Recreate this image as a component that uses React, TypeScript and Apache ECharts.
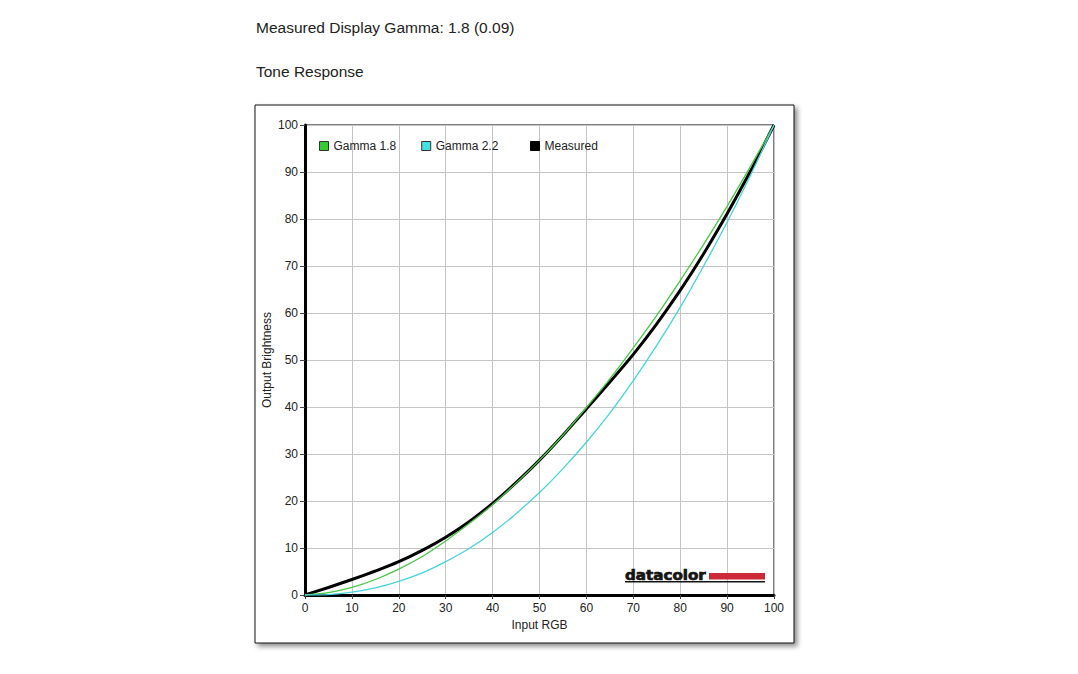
import React, { useEffect, useRef } from "react";
import * as echarts from "echarts";

const inputRGB = [0, 5, 10, 15, 20, 25, 30, 35, 40, 45, 50, 55, 60, 65, 70, 75, 80, 85, 90, 95, 100];
const gamma18 = [0, 0.5, 1.6, 3.3, 5.5, 8.2, 11.5, 15.2, 19.2, 23.8, 28.7, 34.0, 39.9, 46.0, 52.6, 59.5, 66.9, 74.6, 82.7, 91.2, 100];
const gamma22 = [0, 0.1, 0.6, 1.5, 2.9, 4.7, 7.1, 9.9, 13.3, 17.3, 21.8, 26.9, 32.5, 38.7, 45.6, 53.1, 61.2, 70.0, 79.3, 89.3, 100];
const measured = [0, 1.6, 3.3, 5.1, 7.1, 9.5, 12.3, 15.6, 19.5, 23.9, 28.7, 34.0, 39.6, 45.3, 51.2, 57.7, 64.8, 72.6, 81.1, 90.2, 100];
const seriesNames = ["Gamma 1.8", "Gamma 2.2", "Measured"];
const headline = "Measured Display Gamma: 1.8 (0.09)";
const subhead = "Tone Response";
const xAxisName = "Input RGB";
const yAxisName = "Output Brightness";

const pairs = (ys: number[]) => inputRGB.map((x, i) => [x, ys[i]]);

export default function App() {
  const ref = useRef<HTMLDivElement>(null);
  useEffect(() => {
    if (!ref.current) return;
    const chart = echarts.init(ref.current, null, { renderer: "svg" });
    const font = "Arial, 'Liberation Sans', sans-serif";
    const legendBase = {
      top: 140,
      itemWidth: 9,
      itemHeight: 9,
      itemGap: 25,
      icon: "rect",
      textStyle: { fontSize: 12, color: "#222", fontFamily: font },
      padding: 0,
    };
    chart.setOption({
      animation: false,
      backgroundColor: "#ffffff",
      textStyle: { fontFamily: font },
      title: [
        {
          text: headline,
          left: 256,
          top: 19,
          padding: 0,
          textStyle: { fontSize: 15.5, fontWeight: "normal", color: "#222", fontFamily: font },
        },
        {
          text: subhead,
          left: 256,
          top: 63,
          padding: 0,
          textStyle: { fontSize: 15.5, fontWeight: "normal", color: "#222", fontFamily: font },
        },
      ],
      graphic: [
        {
          type: "rect",
          z: -10,
          shape: { x: 255, y: 105, width: 539, height: 538 },
          style: {
            fill: "#fff",
            stroke: "#111",
            lineWidth: 1,
            shadowBlur: 5,
            shadowOffsetX: 3,
            shadowOffsetY: 3,
            shadowColor: "rgba(0,0,0,0.45)",
          },
        },
        {
          type: "text",
          z: 50,
          x: 625,
          y: 575.5,
          scaleX: 1.12,
          style: {
            text: "datacolor",
            fontSize: 13.5,
            fontWeight: 900,
            fontFamily: "'DejaVu Sans'",
            fill: "#151515",
            stroke: "#151515",
            lineWidth: 0.7,
            textAlign: "left",
            textVerticalAlign: "middle",
          },
        },
        {
          type: "rect",
          z: 50,
          shape: { x: 709, y: 573, width: 56, height: 6.5 },
          style: { fill: "#cc2a36" },
        },
        {
          type: "rect",
          z: 50,
          shape: { x: 625, y: 581, width: 140, height: 1.5 },
          style: { fill: "#151515" },
        },
      ],
      legend: [
        {
          ...legendBase,
          left: 319,
          data: [
            { name: seriesNames[0], itemStyle: { color: "#33cc33", borderColor: "#333", borderWidth: 1 } },
            { name: seriesNames[1], itemStyle: { color: "#44e0e0", borderColor: "#333", borderWidth: 1 } },
          ],
        },
        {
          ...legendBase,
          left: 530,
          data: [
            { name: seriesNames[2], itemStyle: { color: "#000", borderColor: "#000", borderWidth: 1 } },
          ],
        },
      ],
      grid: {
        left: 305,
        top: 125,
        right: 304,
        bottom: 79,
        show: true,
        borderColor: "#000",
        borderWidth: 1,
        backgroundColor: "transparent",
        containLabel: false,
      },
      xAxis: {
        type: "value",
        min: 0,
        max: 100,
        interval: 10,
        name: xAxisName,
        nameLocation: "middle",
        nameGap: 24,
        nameTextStyle: { fontSize: 12, color: "#222", fontFamily: font },
        axisLine: { show: true, onZero: false, lineStyle: { color: "#000", width: 3 } },
        axisTick: { show: true, length: 4, lineStyle: { color: "#444", width: 1 } },
        axisLabel: { fontSize: 12, color: "#222", margin: 7, fontFamily: font },
        splitLine: { show: true, lineStyle: { color: "#c4c4c4", width: 1 } },
      },
      yAxis: {
        type: "value",
        min: 0,
        max: 100,
        interval: 10,
        name: yAxisName,
        nameLocation: "middle",
        nameGap: 32,
        nameTextStyle: { fontSize: 12, color: "#222", fontFamily: font },
        axisLine: { show: true, onZero: false, lineStyle: { color: "#000", width: 3 } },
        axisTick: { show: true, length: 5, lineStyle: { color: "#444", width: 1 } },
        axisLabel: { fontSize: 12, color: "#222", margin: 7, fontFamily: font },
        splitLine: { show: true, lineStyle: { color: "#c4c4c4", width: 1 } },
      },
      series: [
        {
          name: seriesNames[0],
          type: "line",
          z: 4,
          data: pairs(gamma18),
          showSymbol: false,
          smooth: 0.2,
          itemStyle: { color: "#33cc33" },
          lineStyle: { color: "#46c846", width: 1.3 },
        },
        {
          name: seriesNames[1],
          type: "line",
          z: 4,
          data: pairs(gamma22),
          showSymbol: false,
          smooth: 0.2,
          itemStyle: { color: "#44e0e0" },
          lineStyle: { color: "#45d4d8", width: 1.3 },
        },
        {
          name: seriesNames[2],
          type: "line",
          z: 3,
          data: pairs(measured),
          showSymbol: false,
          smooth: 0.15,
          itemStyle: { color: "#000" },
          lineStyle: { color: "#000", width: 3 },
        },
      ],
    });
    return () => chart.dispose();
  }, []);
  return (
    <div
      ref={ref}
      style={{ position: "absolute", left: 0, top: 0, width: 1078, height: 674 }}
    />
  );
}
